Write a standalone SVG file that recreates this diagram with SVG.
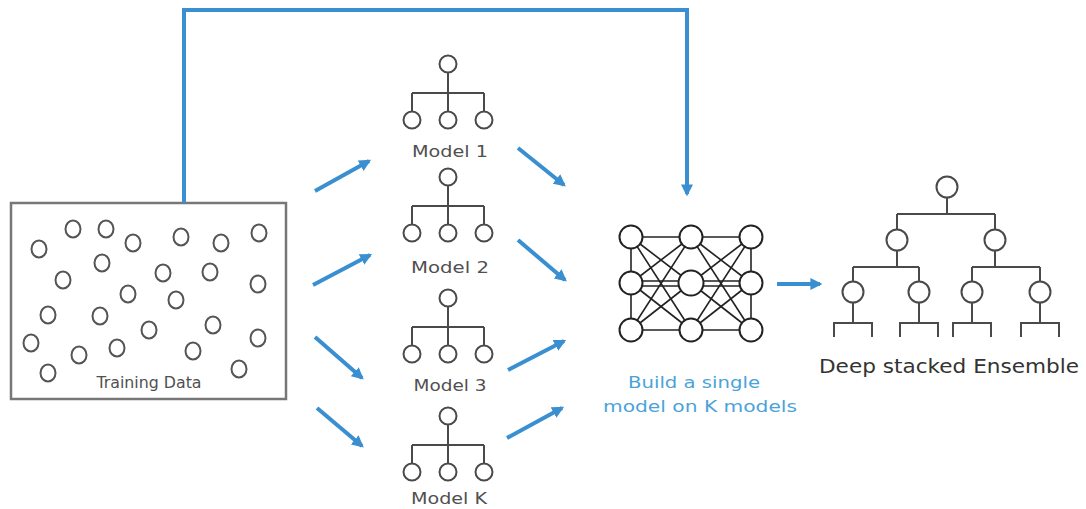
<svg xmlns="http://www.w3.org/2000/svg" width="1086" height="509" viewBox="0 0 1086 509">
  <defs>
    <marker id="head" viewBox="0 0 10 10" refX="8" refY="5" markerWidth="3" markerHeight="3" orient="auto" markerUnits="strokeWidth">
      <path d="M0,0 L10,5 L0,10 z" fill="#3a8fd0"/>
    </marker>
    <!-- small three-leaf tree used for each base model -->
    <g id="tree3">
      <circle cx="0" cy="0" r="8.5"/>
      <path d="M0,8.5 V47.5 M-36,29 H36 M-36,29 V47.5 M36,29 V47.5"/>
      <circle cx="-36" cy="56" r="8.5"/>
      <circle cx="0" cy="56" r="8.5"/>
      <circle cx="36" cy="56" r="8.5"/>
    </g>
  </defs>
  <style>
    .bg { fill: #ffffff; }
    .dots ellipse { fill: none; stroke: #555; stroke-width: 2; }
    .box { fill: #ffffff; stroke: #777; stroke-width: 2.5; }
    .tree { fill: none; stroke: #4a4a4a; stroke-width: 2; }
    .tree circle { fill: #ffffff; }
    .net line { stroke: #222; stroke-width: 1.6; }
    .net circle { fill: #ffffff; stroke: #222; stroke-width: 2; }
    .lbl { font-family: "DejaVu Sans", "Liberation Sans", sans-serif; fill: #505050; text-anchor: middle; }
    .blue-lbl { font-family: "DejaVu Sans", "Liberation Sans", sans-serif; fill: #4aa3d8; text-anchor: middle; font-size: 16px; }
    .conn { fill: none; stroke: #3a8fd0; stroke-width: 4; stroke-linecap: butt; }
  </style>

  <rect class="bg" x="0" y="0" width="1086" height="509"/>

  <!-- training data -->
  <g id="training-data">
    <rect class="box" x="11" y="203" width="275" height="196"/>
    <g class="dots">
      <ellipse cx="39" cy="249" rx="7.5" ry="8.5"/>
      <ellipse cx="73" cy="229" rx="7.5" ry="8.5"/>
      <ellipse cx="106" cy="229" rx="7.5" ry="8.5"/>
      <ellipse cx="133" cy="243" rx="7.5" ry="8.5"/>
      <ellipse cx="181" cy="237" rx="7.5" ry="8.5"/>
      <ellipse cx="221" cy="243" rx="7.5" ry="8.5"/>
      <ellipse cx="259" cy="233" rx="7.5" ry="8.5"/>
      <ellipse cx="102" cy="263" rx="7.5" ry="8.5"/>
      <ellipse cx="63" cy="280" rx="7.5" ry="8.5"/>
      <ellipse cx="163" cy="273" rx="7.5" ry="8.5"/>
      <ellipse cx="210" cy="272" rx="7.5" ry="8.5"/>
      <ellipse cx="258" cy="284" rx="7.5" ry="8.5"/>
      <ellipse cx="128" cy="294" rx="7.5" ry="8.5"/>
      <ellipse cx="176" cy="300" rx="7.5" ry="8.5"/>
      <ellipse cx="48" cy="315" rx="7.5" ry="8.5"/>
      <ellipse cx="100" cy="316" rx="7.5" ry="8.5"/>
      <ellipse cx="149" cy="330" rx="7.5" ry="8.5"/>
      <ellipse cx="213" cy="325" rx="7.5" ry="8.5"/>
      <ellipse cx="258" cy="338" rx="7.5" ry="8.5"/>
      <ellipse cx="31" cy="343" rx="7.5" ry="8.5"/>
      <ellipse cx="79" cy="355" rx="7.5" ry="8.5"/>
      <ellipse cx="117" cy="348" rx="7.5" ry="8.5"/>
      <ellipse cx="193" cy="351" rx="7.5" ry="8.5"/>
      <ellipse cx="48" cy="373" rx="7.5" ry="8.5"/>
      <ellipse cx="239" cy="369" rx="7.5" ry="8.5"/>
    </g>
    <text class="lbl" x="149" y="388" font-size="15" textLength="105" lengthAdjust="spacingAndGlyphs">Training Data</text>
  </g>

  <!-- base models -->
  <g id="model-1">
    <use href="#tree3" class="tree" x="448" y="64"/>
    <text class="lbl" x="450" y="157" font-size="16.5" textLength="76" lengthAdjust="spacingAndGlyphs">Model 1</text>
  </g>
  <g id="model-2">
    <use href="#tree3" class="tree" x="448" y="177"/>
    <text class="lbl" x="450" y="273" font-size="16.5" textLength="78" lengthAdjust="spacingAndGlyphs">Model 2</text>
  </g>
  <g id="model-3">
    <use href="#tree3" class="tree" x="448" y="298"/>
    <text class="lbl" x="450" y="391" font-size="16.5" textLength="73" lengthAdjust="spacingAndGlyphs">Model 3</text>
  </g>
  <g id="model-k">
    <use href="#tree3" class="tree" x="448" y="416"/>
    <text class="lbl" x="449" y="504" font-size="16.5" textLength="76" lengthAdjust="spacingAndGlyphs">Model K</text>
  </g>

  <!-- meta learner: fully connected 3x3 net -->
  <g id="meta-model">
    <g class="net">
      <line x1="631" y1="237" x2="631" y2="330"/>
      <line x1="751" y1="237" x2="751" y2="330"/>
      <line x1="631" y1="237" x2="691" y2="237"/>
      <line x1="631" y1="237" x2="691" y2="283"/>
      <line x1="631" y1="237" x2="691" y2="330"/>
      <line x1="631" y1="283" x2="691" y2="237"/>
      <line x1="631" y1="281" x2="691" y2="281"/>
      <line x1="631" y1="286" x2="691" y2="286"/>
      <line x1="631" y1="283" x2="691" y2="330"/>
      <line x1="631" y1="330" x2="691" y2="237"/>
      <line x1="631" y1="330" x2="691" y2="283"/>
      <line x1="631" y1="330" x2="691" y2="330"/>
      <line x1="691" y1="237" x2="751" y2="237"/>
      <line x1="691" y1="237" x2="751" y2="283"/>
      <line x1="691" y1="237" x2="751" y2="330"/>
      <line x1="691" y1="283" x2="751" y2="237"/>
      <line x1="691" y1="281" x2="751" y2="281"/>
      <line x1="691" y1="286" x2="751" y2="286"/>
      <line x1="691" y1="283" x2="751" y2="330"/>
      <line x1="691" y1="330" x2="751" y2="237"/>
      <line x1="691" y1="330" x2="751" y2="283"/>
      <line x1="691" y1="330" x2="751" y2="330"/>
      <circle cx="631" cy="237" r="11.5"/>
      <circle cx="691" cy="237" r="11.5"/>
      <circle cx="751" cy="237" r="11.5"/>
      <circle cx="631" cy="283" r="11.5"/>
      <circle cx="691" cy="283" r="12.5"/>
      <circle cx="751" cy="283" r="11.5"/>
      <circle cx="631" cy="330" r="11.5"/>
      <circle cx="691" cy="330" r="11.5"/>
      <circle cx="751" cy="330" r="11.5"/>
    </g>
    <text class="blue-lbl" x="694" y="388" textLength="132" lengthAdjust="spacingAndGlyphs">Build a single</text>
    <text class="blue-lbl" x="700" y="412" textLength="194" lengthAdjust="spacingAndGlyphs">model on K models</text>
  </g>

  <!-- resulting deep stacked ensemble -->
  <g id="ensemble">
    <g class="tree">
      <path d="M947,197 V214 M897,214 H995 M897,214 V230 M995,214 V230"/>
      <path d="M897,251 V267 M853,267 H919 M853,267 V282 M919,267 V282"/>
      <path d="M995,251 V267 M972,267 H1040 M972,267 V282 M1040,267 V282"/>
      <path d="M853,303 V323 M834,337 V323 H872 V337"/>
      <path d="M919,303 V323 M900,337 V323 H938 V337"/>
      <path d="M972,303 V323 M953,337 V323 H991 V337"/>
      <path d="M1040,303 V323 M1021,337 V323 H1059 V337"/>
      <circle cx="947" cy="187" r="10.5"/>
      <circle cx="897" cy="240" r="10.5"/>
      <circle cx="995" cy="240" r="10.5"/>
      <circle cx="853" cy="292" r="10.5"/>
      <circle cx="919" cy="292" r="10.5"/>
      <circle cx="972" cy="292" r="10.5"/>
      <circle cx="1040" cy="292" r="10.5"/>
    </g>
    <text class="lbl" x="949" y="373" font-size="19.5" style="fill:#333" textLength="260" lengthAdjust="spacingAndGlyphs">Deep stacked Ensemble</text>
  </g>

  <!-- connectors -->
  <g id="connectors">
    <path class="conn" d="M184,203 V10 H687 V194" marker-end="url(#head)"/>
    <line class="conn" x1="315" y1="191" x2="369" y2="161" marker-end="url(#head)"/>
    <line class="conn" x1="313" y1="285" x2="370" y2="255" marker-end="url(#head)"/>
    <line class="conn" x1="315" y1="337" x2="362" y2="378" marker-end="url(#head)"/>
    <line class="conn" x1="317" y1="408" x2="362" y2="446" marker-end="url(#head)"/>
    <line class="conn" x1="518" y1="148" x2="564" y2="185" marker-end="url(#head)"/>
    <line class="conn" x1="518" y1="240" x2="565" y2="280" marker-end="url(#head)"/>
    <line class="conn" x1="508" y1="370" x2="564" y2="341" marker-end="url(#head)"/>
    <line class="conn" x1="507" y1="438" x2="562" y2="408" marker-end="url(#head)"/>
    <line class="conn" x1="777" y1="284" x2="820" y2="284" marker-end="url(#head)"/>
  </g>
</svg>
